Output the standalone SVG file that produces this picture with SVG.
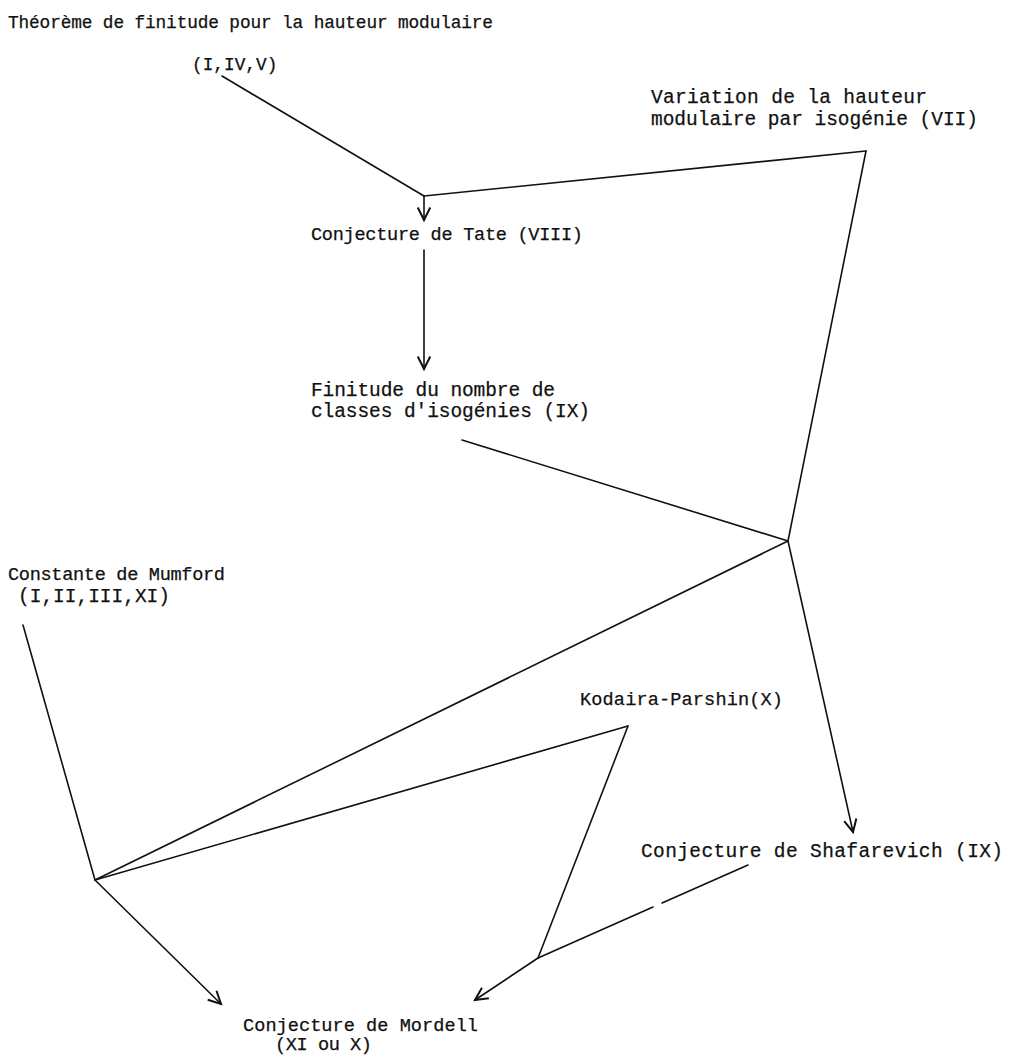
<svg xmlns="http://www.w3.org/2000/svg" width="1010" height="1058" viewBox="0 0 1010 1058">
<style>
text{font-family:"Liberation Mono","DejaVu Sans Mono",monospace;font-size:19.5px;fill:#111;stroke:#111;stroke-width:0.25;}
.s{font-size:17.8px;}
.m{font-size:18.6px;}
.c line{stroke:#111;stroke-width:1.6;fill:none;stroke-linecap:round;}
.a{marker-end:url(#ah);}
</style>
<defs>
<marker id="ah" markerUnits="userSpaceOnUse" markerWidth="20" markerHeight="20" viewBox="-12 -8 14 16" refX="0" refY="0" orient="auto">
<path d="M-10,-5 L0,0 L-10,5" fill="none" stroke="#111" stroke-width="1.6"/>
</marker>
</defs>
<rect width="1010" height="1058" fill="#fff"/>
<g id="n-finitude-hauteur"><text class="s" x="8" y="28" textLength="485" lengthAdjust="spacing">Théorème de finitude pour la hauteur modulaire</text><text class="s" x="192" y="70">(I,IV,V)</text></g>
<g id="n-variation"><text x="651" y="103" textLength="276" lengthAdjust="spacing">Variation de la hauteur</text><text x="651" y="125" textLength="327" lengthAdjust="spacing">modulaire par isogénie (VII)</text></g>
<g id="n-tate"><text class="m" x="311" y="240" textLength="272" lengthAdjust="spacing">Conjecture de Tate (VIII)</text></g>
<g id="n-finitude-isog"><text x="311" y="396" textLength="244" lengthAdjust="spacing">Finitude du nombre de</text><text x="311" y="417" textLength="279" lengthAdjust="spacing">classes d'isogénies (IX)</text></g>
<g id="n-mumford"><text class="m" x="8" y="580" textLength="217" lengthAdjust="spacing">Constante de Mumford</text><text x="18" y="602" textLength="152" lengthAdjust="spacing">(I,II,III,XI)</text></g>
<g id="n-kodaira"><text class="m" x="580" y="705" textLength="203" lengthAdjust="spacing">Kodaira-Parshin(X)</text></g>
<g id="n-shafarevich"><text x="641" y="857" textLength="362" lengthAdjust="spacing">Conjecture de Shafarevich (IX)</text></g>
<g id="n-mordell"><text class="m" x="243" y="1031" textLength="235" lengthAdjust="spacing">Conjecture de Mordell</text><text class="m" x="275" y="1050" textLength="97" lengthAdjust="spacing">(XI ou X)</text></g>
<g id="connectors" class="c">
<line x1="222" y1="76" x2="424" y2="196"/>
<line x1="424" y1="196" x2="866" y2="151"/>
<line class="a" x1="424" y1="196" x2="424" y2="220"/>
<line x1="866" y1="151" x2="788" y2="541"/>
<line class="a" x1="424" y1="250" x2="424" y2="369"/>
<line x1="462" y1="440" x2="788" y2="541"/>
<line class="a" x1="788" y1="541" x2="853" y2="832"/>
<line x1="788" y1="541" x2="95" y2="880"/>
<line x1="23" y1="625" x2="95" y2="880"/>
<line x1="95" y1="880" x2="628" y2="726"/>
<line x1="628" y1="726" x2="538" y2="958"/>
<line x1="748" y1="865" x2="662" y2="903"/>
<line x1="653" y1="907" x2="538" y2="958"/>
<line class="a" x1="538" y1="958" x2="475" y2="1000"/>
<line class="a" x1="95" y1="880" x2="221" y2="1004"/>
</g>
</svg>
